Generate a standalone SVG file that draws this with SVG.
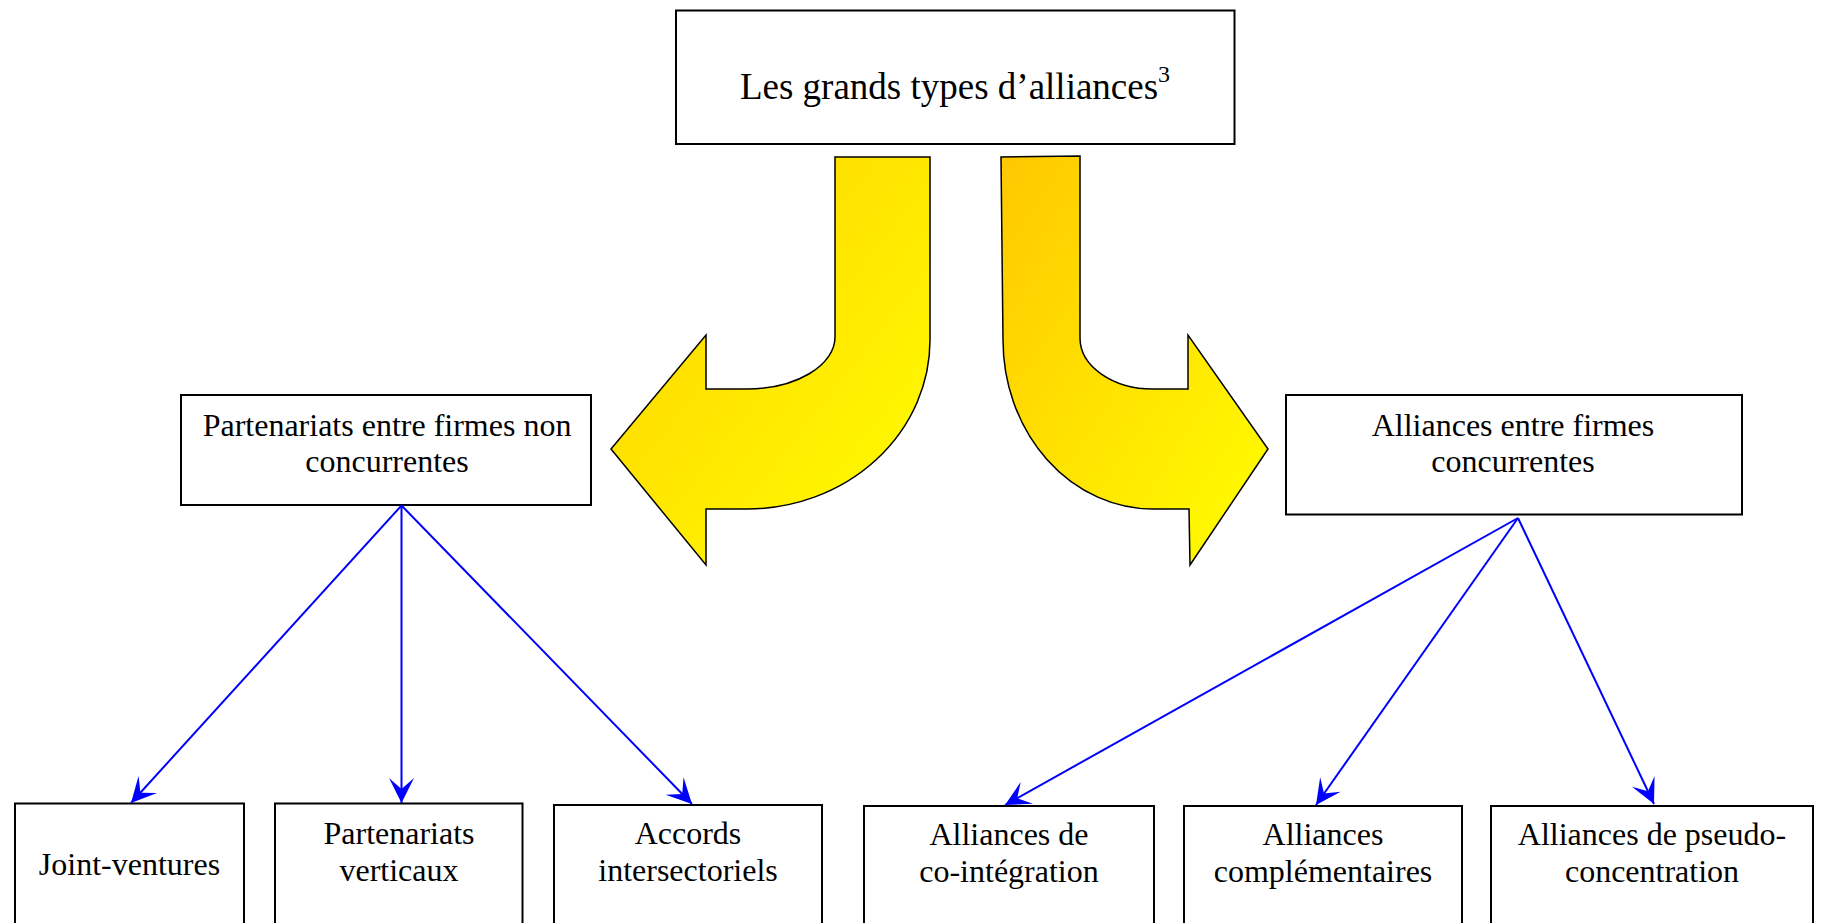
<svg xmlns="http://www.w3.org/2000/svg" width="1821" height="923" viewBox="0 0 1821 923">
  <style>
    .box { fill: #FFFFFF; stroke: #000000; stroke-width: 2; }
    .lbl { font-family: "Liberation Serif", "Times New Roman", serif; font-size: 32px; fill: #000000; text-anchor: middle; }
    .title { font-family: "Liberation Serif", "Times New Roman", serif; font-size: 37px; fill: #000000; text-anchor: middle; }
    .con { fill: none; stroke: #0000FF; stroke-width: 2; marker-end: url(#arr); }
    .yarrow { stroke: #000000; stroke-width: 1.5; stroke-linejoin: miter; }
  </style>
  <defs>
    <marker id="arr" markerUnits="userSpaceOnUse" markerWidth="30" markerHeight="30" refX="0" refY="0" orient="auto" viewBox="-26 -15 30 30" overflow="visible">
      <path d="M0,0 L-25,-12.5 L-14,0 L-25,12.5 Z" fill="#0000FF"/>
    </marker>
    <linearGradient id="gl" x1="0" y1="0" x2="1" y2="1">
      <stop offset="0" stop-color="#FFD000"/>
      <stop offset="1" stop-color="#FFFF00"/>
    </linearGradient>
    <linearGradient id="gr" x1="0" y1="0" x2="1" y2="1">
      <stop offset="0" stop-color="#FFC800"/>
      <stop offset="1" stop-color="#FFFF00"/>
    </linearGradient>
  </defs>
  <rect width="1821" height="923" fill="#FFFFFF"/>

  <g id="title">
    <rect class="box" x="676" y="10.5" width="558.5" height="133.5"/>
    <text class="title" x="955" y="99">Les grands types d’alliances<tspan font-size="24" dy="-17">3</tspan></text>
  </g>

  <g id="arrow-left">
    <path class="yarrow" fill="url(#gl)" d="M835,157 L930,157 L930,340 A183,169 0 0 1 747,509 L706,509 L706,565 L611,449 L706,335 L706,389 L747,389 A88,52 0 0 0 835,337 Z"/>
  </g>
  <g id="arrow-right">
    <path class="yarrow" fill="url(#gr)" d="M1001,157 L1080,156 L1080,338 A73,51 0 0 0 1153,389 L1188,389 L1188,335 L1268,449 L1190,565 L1189,509 L1153,509 A150,169 0 0 1 1003,340 Z"/>
  </g>

  <g id="non-concurrentes">
    <rect class="box" x="181" y="395" width="410" height="110"/>
    <text class="lbl" x="387" y="436">Partenariats entre firmes non</text>
    <text class="lbl" x="387" y="472">concurrentes</text>
  </g>
  <g id="concurrentes">
    <rect class="box" x="1286" y="395" width="456" height="119.5"/>
    <text class="lbl" x="1513" y="436">Alliances entre firmes</text>
    <text class="lbl" x="1513" y="472">concurrentes</text>
  </g>

  <g id="joint-ventures">
    <rect class="box" x="15" y="803.5" width="229" height="130"/>
    <text class="lbl" x="129.5" y="875">Joint-ventures</text>
  </g>
  <g id="partenariats-verticaux">
    <rect class="box" x="275" y="803.5" width="247.5" height="130"/>
    <text class="lbl" x="399" y="844">Partenariats</text>
    <text class="lbl" x="399" y="881">verticaux</text>
  </g>
  <g id="accords-intersectoriels">
    <rect class="box" x="554" y="805" width="268" height="130"/>
    <text class="lbl" x="688" y="844">Accords</text>
    <text class="lbl" x="688" y="881">intersectoriels</text>
  </g>
  <g id="co-integration">
    <rect class="box" x="864" y="806" width="290" height="130"/>
    <text class="lbl" x="1009" y="845">Alliances de</text>
    <text class="lbl" x="1009" y="882">co-intégration</text>
  </g>
  <g id="complementaires">
    <rect class="box" x="1184" y="806" width="278" height="130"/>
    <text class="lbl" x="1323" y="845">Alliances</text>
    <text class="lbl" x="1323" y="882">complémentaires</text>
  </g>
  <g id="pseudo-concentration">
    <rect class="box" x="1491" y="806" width="322" height="130"/>
    <text class="lbl" x="1652" y="845">Alliances de pseudo-</text>
    <text class="lbl" x="1652" y="882">concentration</text>
  </g>

  <g id="connectors">
    <line class="con" x1="401.5" y1="505.5" x2="131" y2="803"/>
    <line class="con" x1="401.5" y1="505.5" x2="401.5" y2="803"/>
    <line class="con" x1="401.5" y1="505.5" x2="692" y2="804"/>
    <line class="con" x1="1518" y1="518" x2="1005" y2="805"/>
    <line class="con" x1="1518" y1="518" x2="1316" y2="805"/>
    <line class="con" x1="1518" y1="518" x2="1654" y2="804"/>
  </g>
</svg>
